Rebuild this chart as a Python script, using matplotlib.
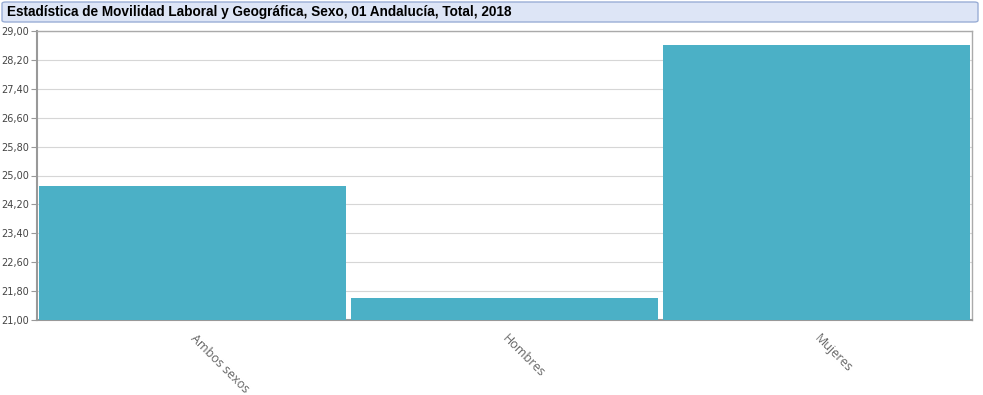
import matplotlib
matplotlib.use('Agg')
import matplotlib.pyplot as plt
from matplotlib.patches import FancyBboxPatch
from matplotlib.ticker import FuncFormatter

# Datos del gráfico
categorias = ['Ambos sexos', 'Hombres', 'Mujeres']
valores = [24.71, 21.60, 28.61]
ticks_y = [21.0, 21.8, 22.6, 23.4, 24.2, 25.0, 25.8, 26.6, 27.4, 28.2, 29.0]
titulo = 'Estadística de Movilidad Laboral y Geográfica, Sexo, 01 Andalucía, Total, 2018'

W, H = 983, 395
fig = plt.figure(figsize=(W / 100, H / 100), dpi=100)

# Caja del título
caja = FancyBboxPatch((2 / W, 1 - 22 / H), 976 / W, 20 / H,
                      boxstyle='round,pad=0,rounding_size=0.004',
                      transform=fig.transFigure, facecolor='#dde5f6',
                      edgecolor='#9aaed6', linewidth=1)
fig.patches.append(caja)
fig.text(7 / W, 1 - 12 / H, titulo, fontsize=9.8, fontweight='bold',
         family='Liberation Sans', va='center', ha='left', color='#000000')

ax = fig.add_axes([37 / W, 1 - 320 / H, 935 / W, 289 / H])
x = range(len(categorias))
ax.bar(x, valores, width=0.985, color='#4bb0c6', edgecolor='none', zorder=3)

ax.set_xlim(-0.5, len(categorias) - 0.5)
ax.set_ylim(21, 29)
ax.set_yticks(ticks_y)
ax.yaxis.set_major_formatter(FuncFormatter(lambda v, p: f'{v:.2f}'.replace('.', ',')))
ax.grid(axis='y', color='#d6d6d6', linewidth=0.8, zorder=0)

ax.set_xticks(list(x))
ax.set_xticklabels(categorias, rotation=-45, ha='left', va='center',
                   rotation_mode='anchor', fontsize=9, color='#666666',
                   family='Open Sans')
ax.tick_params(axis='x', length=0, pad=12)
ax.tick_params(axis='y', length=4, color='#999999', labelsize=7,
               labelcolor='#444444', pad=2)

for s in ['left', 'bottom']:
    ax.spines[s].set_color('#999999')
    ax.spines[s].set_linewidth(1.5)
for s in ['top', 'right']:
    ax.spines[s].set_color('#aaaaaa')
    ax.spines[s].set_linewidth(1)

fig.savefig('out.png', dpi=100)
